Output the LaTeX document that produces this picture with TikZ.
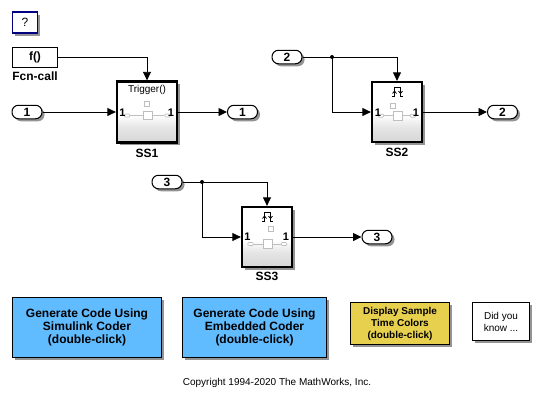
\documentclass[tikz,border=0pt]{standalone}
\usepackage{fontspec}
\setmainfont{Liberation Sans}
\usetikzlibrary{arrows.meta,shadows}
\definecolor{btnblue}{HTML}{61BBFF}
\definecolor{btnyellow}{HTML}{E8D04F}
\definecolor{navybox}{HTML}{000080}
\definecolor{icon}{HTML}{BEBEBE}
\pgfdeclareverticalshading{subsysgrad}{100bp}{color(0bp)=(black!22); color(25bp)=(black!22); color(50bp)=(black!10); color(60bp)=(white); color(100bp)=(white); color(125bp)=(white)}
\tikzset{
  x=1pt,y=-1pt,
  softshadow/.style={drop shadow={shadow xshift=2.5pt,shadow yshift=-2.5pt,fill=black,opacity=.42}},
  plainbox/.style={draw=black,line width=1.1pt,fill=white,softshadow,inner sep=0pt,align=center},
  subsys/.style={draw=black,line width=2.3pt,shading=subsysgrad,shading angle=0,softshadow,inner sep=0pt,minimum height=60pt},
  portblock/.style={draw=black,line width=1pt,fill=white,rounded corners=6.5pt,minimum width=30pt,minimum height=13.5pt,inner sep=0pt,font=\fontsize{12}{12}\selectfont\bfseries,softshadow},
  blocklabel/.style={font=\fontsize{12}{12}\selectfont\bfseries,inner sep=0pt},
  portnum/.style={font=\fontsize{11}{11}\selectfont\bfseries,inner sep=0pt},
  wire/.style={draw=black,line width=.8pt,-{Triangle[length=8.5pt,width=8pt]}},
  wireplain/.style={draw=black,line width=.8pt},
  button/.style={plainbox,font=\fontsize{12}{13.2}\selectfont\bfseries},
  iconbox/.style={draw=icon,line width=.7pt,fill=white,inner sep=0pt},
  iconline/.style={draw=icon,line width=.5pt},
  edgemark/.style={draw=black,line width=.75pt},
}
\newcommand{\innericon}[7]{%
  % #1 prefix, #2 x left port, #3 x centre, #4 x right port, #5 y, #6 x and #7 y of small square
  \node[iconbox,minimum width=5pt,minimum height=5pt] (#1top) at (#6,#7) {};
  \node[iconbox,minimum width=9pt,minimum height=8.5pt] (#1mid) at (#3,#5) {};
  \node[iconbox,minimum width=5.5pt,minimum height=3pt,rounded corners=1pt] (#1l) at (#2,#5) {};
  \node[iconbox,minimum width=5.5pt,minimum height=3pt,rounded corners=1pt] (#1r) at (#4,#5) {};
  \draw[iconline] (#1l) -- (#1mid);
  \draw[iconline] (#1mid) -- (#1r);
}
\newcommand{\edgeicon}[2]{%
  \draw[edgemark] (#1-5.5,#2+4.5) -- (#1-3,#2+4.5) -- (#1-3,#2-4.5) -- (#1+3,#2-4.5) -- (#1+3,#2+4.5) -- (#1+5.5,#2+4.5);
  \draw[edgemark] (#1-5,#2+2) -- (#1-3,#2-.5) -- (#1-1,#2+2);
  \draw[edgemark] (#1+1,#2-.5) -- (#1+3,#2+2) -- (#1+5,#2-.5);
}
\begin{document}
\begin{tikzpicture}
\useasboundingbox (0,0) rectangle (540,402);
\fill[white] (0,0) rectangle (540,402);

% help
\node[plainbox,draw=navybox,line width=1.3pt,minimum width=25pt,minimum height=21pt,font=\fontsize{12}{12}\selectfont] (help) at (25,22.5) {?};

% function-call generator
\node[draw=black,line width=1.1pt,fill=white,inner sep=0pt,minimum width=45pt,minimum height=20pt,font=\fontsize{12}{12}\selectfont\bfseries] (fcn) at (35,57.5) {f()};
\node[blocklabel] (fcnlabel) at (35,76.5) {Fcn-call};

% SS1
\node[subsys,minimum width=60pt,minimum height=61pt] (ss1) at (147,112) {};
\node[font=\fontsize{10}{10}\selectfont,inner sep=0pt] (ss1t) at (147,89.5) {Trigger()};
\innericon{a}{127}{147.5}{167.5}{115.5}{146.5}{103.5}
\node[portnum] (ss1in) at (122.5,112.3) {1};
\node[portnum] (ss1out) at (171,112.3) {1};
\node[blocklabel] (ss1label) at (147,153) {SS1};
\node[portblock] (in1) at (27,112) {1};
\node[portblock] (out1) at (242.5,112) {1};
\draw[wire] (in1) -- (ss1.west);
\draw[wire] (ss1.east) -- (out1);
\draw[wire] (fcn.east) -- (147,57.5) -- (ss1.north);

% SS2
\node[subsys,minimum width=50pt] (ss2) at (397,112) {};
\edgeicon{397.5}{91.5}
\innericon{b}{381}{397.5}{413}{115.7}{393}{106}
\node[portnum] (ss2in) at (378,112.3) {1};
\node[portnum] (ss2out) at (416,112.3) {1};
\node[blocklabel] (ss2label) at (397,152) {SS2};
\node[portblock] (in2) at (287,57) {2};
\node[portblock] (out2) at (502.5,112) {2};
\coordinate (j2) at (332,57);
\fill (j2) circle (2pt);
\draw[wireplain] (in2) -- (j2);
\draw[wire] (j2) -- (397,57) -- (ss2.north);
\draw[wire] (j2) -- (332,112) -- (ss2.west);
\draw[wire] (ss2.east) -- (out2);

% SS3
\node[subsys,minimum width=50pt] (ss3) at (267,237) {};
\edgeicon{267.5}{216.5}
\innericon{c}{250.5}{267.5}{284}{244}{270.5}{228.5}
\node[portnum] (ss3in) at (247.5,237) {1};
\node[portnum] (ss3out) at (286,237) {1};
\node[blocklabel] (ss3label) at (267,276) {SS3};
\node[portblock] (in3) at (167,182) {3};
\node[portblock] (out3) at (377,237) {3};
\coordinate (j3) at (202,182);
\fill (j3) circle (2pt);
\draw[wireplain] (in3) -- (j3);
\draw[wire] (j3) -- (267,182) -- (ss3.north);
\draw[wire] (j3) -- (202,237) -- (ss3.west);
\draw[wire] (ss3.east) -- (out3);

% buttons
\node[button,fill=btnblue,minimum width=149pt,minimum height=60pt] (b1) at (87,327.5) {Generate Code Using\\Simulink Coder\\(double-click)};
\node[button,fill=btnblue,minimum width=144pt,minimum height=60pt] (b2) at (254.5,327.5) {Generate Code Using\\Embedded Coder\\(double-click)};
\node[plainbox,fill=btnyellow,minimum width=99pt,minimum height=42pt,font=\fontsize{10}{12}\selectfont\bfseries] (b3) at (400,323.5) {Display Sample\\Time Colors\\(double-click)};
\node[plainbox,minimum width=57pt,minimum height=38pt,font=\fontsize{10}{12}\selectfont] (b4) at (501,321.5) {Did you\\know ...};
\node[font=\fontsize{10}{10}\selectfont,inner sep=0pt] (copy) at (277,383) {Copyright 1994-2020 The MathWorks, Inc.};
\end{tikzpicture}
\end{document}
